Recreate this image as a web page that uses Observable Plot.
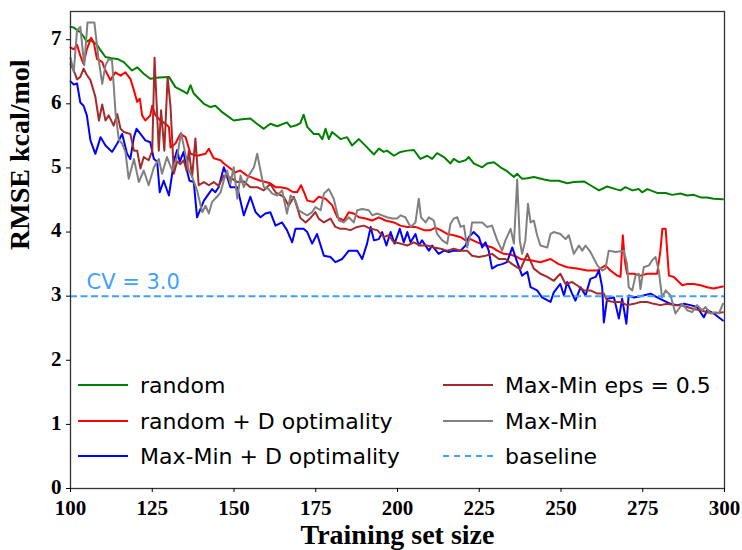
<!DOCTYPE html>
<html><head><meta charset="utf-8">
<script src="https://cdn.jsdelivr.net/npm/d3@7"></script>
<script src="https://cdn.jsdelivr.net/npm/@observablehq/plot@0.6"></script>
<style>
body{margin:0;background:#fff}
#wrap{position:relative;width:742px;height:550px;overflow:hidden}
.item{position:absolute;display:flex;align-items:center;white-space:nowrap;height:30px;font-family:"DejaVu Sans";font-size:22px;color:#000;transform:translateY(-50%)}
.sw{width:50px;height:0;margin-right:12px}
</style></head><body><div id="wrap"></div>
<script>
const seriesNames = ["random","random + D optimality","Max-Min + D optimality","Max-Min eps = 0.5","Max-Min"];
const seriesColors = ["#008000","#ff0000","#0000ff","#a52a2a","#808080"];
const baselineName = "baseline";
const baselineColor = "#3fa0ff";
const baselineValue = [3.0];
const cvLabel = ["CV = 3.0"];
const cvLabelX = [104.9];
const xTicks = [100,125,150,175,200,225,250,275,300];
const yTicks = [0,1,2,3,4,5,6,7];

const randX = [100,101,102,103,104,105,106,107,108,109,110.7,112.5,114.3,116.3,118.8,120.4,122.4,124.4,127,130.1,132.1,134,135.7,136.7,137.7,140.8,142.8,144.3,146.4,149.9,152.5,155,157,159.1,161.1,163.2,166.2,167.3,169.3,170.3,171.3,172.4,174.4,175.9,177,178,179,180,182.6,184.6,186.1,188.2,190.7,192.8,194.3,195.8,196.8,198.9,200.9,203,205,207,209.1,210.6,212.1,214.2,216.2,217.2,218.8,220.8,221.8,223.3,225.9,227.4,229.5,231.5,233.5,235.6,236.6,238.1,239.7,241.7,244.8,246.8,249.3,251.9,253.9,257,259,261.6,264.1,266.7,268.2,269.7,271.8,273.8,274.8,276.4,279.4,282,284,286.5,288.6,290.6,292.7,294.7,296.7,299.5];
const randY = [7.20,7.19,7.15,7.12,7.05,6.97,7.00,6.96,6.93,6.85,6.73,6.71,6.70,6.65,6.52,6.57,6.47,6.39,6.41,6.42,6.26,6.21,6.16,6.29,6.16,6.00,5.95,5.97,5.87,5.74,5.76,5.77,5.69,5.61,5.69,5.65,5.71,5.64,5.67,5.70,5.83,5.64,5.53,5.53,5.45,5.61,5.45,5.56,5.45,5.48,5.35,5.45,5.32,5.21,5.30,5.25,5.27,5.19,5.25,5.27,5.28,5.14,5.19,5.14,5.23,5.17,5.07,5.14,5.09,5.12,5.17,5.07,5.01,5.07,5.09,5.01,4.95,4.86,4.91,4.83,4.84,4.86,4.82,4.80,4.80,4.76,4.78,4.79,4.73,4.65,4.71,4.67,4.65,4.70,4.65,4.67,4.62,4.67,4.61,4.61,4.58,4.60,4.57,4.58,4.54,4.54,4.52,4.51];

const randDX = [100,101,102,103,104,105,106.3,107.1,108.1,109.7,110.7,112.2,113.7,115.3,116.8,118.3,119.4,120.4,121.2,121.9,122.9,124.4,125,126,127.5,129,130.1,130.6,132.1,133.6,135.2,136.7,138.7,141.3,142.3,143.8,145.9,146.9,148.9,150.4,151.9,154,156,158.1,159.6,161.1,162.7,164.2,166.2,167.8,169.3,170.5,171.6,172.4,174.4,175.9,178,180,181.6,183.6,185.1,186.6,188.2,190.2,192.3,194.3,196.3,198.9,200.9,203,205.5,208.1,210.1,211.6,213.2,215.2,217.2,219.3,220.8,222.3,224.4,226.9,229,230.5,232.5,234.6,236.6,237.6,240.7,243.7,246.8,249.3,251.9,254.9,258,261.1,263.6,265.1,267.2,268.2,268.9,269.5,270.2,272.3,274.3,276.4,279.4,280.4,281,282,283,284.5,287.1,288.6,290.6,292.7,294.7,296.7,299.5];
const randDY = [6.88,6.85,6.92,6.75,6.62,6.85,7.03,6.96,6.70,6.65,6.52,6.37,6.49,6.44,6.49,6.39,6.21,6.03,6.08,5.82,5.74,5.82,5.97,5.82,5.74,5.69,5.64,5.32,5.38,5.53,5.48,5.22,5.19,5.22,5.30,5.15,5.12,5.07,4.99,4.93,4.96,4.88,4.84,4.80,4.78,4.76,4.70,4.70,4.68,4.63,4.62,4.73,4.60,4.49,4.47,4.55,4.52,4.42,4.23,4.18,4.31,4.29,4.23,4.21,4.18,4.23,4.18,4.15,4.10,4.08,4.08,4.03,4.03,4.07,4.03,3.97,3.95,3.92,3.87,3.89,3.84,3.79,3.76,3.71,3.66,3.65,3.61,3.58,3.56,3.53,3.58,3.50,3.45,3.43,3.40,3.40,3.48,3.40,3.32,3.30,3.95,3.56,3.35,3.35,3.32,3.35,3.35,3.71,4.05,4.05,3.32,3.30,3.17,3.19,3.19,3.17,3.14,3.12,3.15];

const mmDX = [100,101,102,103,104,105,106.1,107.6,109.2,110.7,112.7,114.3,115.8,117.3,118.3,119.4,120.2,121.4,122.9,124.4,125.5,126.5,127.3,128.5,130.1,131.1,131.8,132.6,133.4,134.6,135.4,136.4,137.7,138.7,140.8,142.3,143.3,144.3,145.3,146.9,147.9,148.9,151,153,155,156.6,158.1,159.6,161.1,162.7,164.7,166.2,167.8,168.8,171.3,172.4,173.9,175.4,177.5,179.5,181,183.1,185.1,187.7,189.2,190.7,191.8,192.8,194.3,195.3,196.6,197.9,199.1,200.7,201.9,203,204,205.5,206.5,207.5,209.6,210.6,212.6,214.2,215.7,217.2,219.3,220.8,221.8,223.3,224.9,225.9,226.9,227.9,228.9,230.5,232,233.5,235.1,236.6,238.1,239.7,240.7,242.7,244.2,246.8,247.8,249.8,250.9,251.9,253.4,254.4,256,257.5,259,260.6,261.6,262.6,263.1,264.1,266.2,267.7,268.7,270,270.7,272.3,274.3,277.4,279.4,281.4,283.5,285.5,287.6,289.6,291.6,293.7,294.7,296.7,299.5];
const mmDY = [6.35,6.30,6.32,6.02,5.97,5.82,5.43,5.22,5.48,5.35,5.25,5.38,5.53,5.22,5.14,5.48,5.61,5.53,5.43,5.40,5.14,5.10,4.62,4.80,4.57,4.91,5.14,5.28,5.10,5.25,5.00,4.80,4.78,4.23,4.49,4.60,4.67,4.62,4.70,5.01,4.86,4.70,4.70,4.26,4.55,4.31,4.23,4.29,4.31,4.10,4.15,4.03,3.84,4.05,4.05,4.00,3.82,3.97,3.63,3.61,3.53,3.58,3.71,3.71,3.58,3.82,4.08,3.87,3.89,4.00,3.79,4.00,3.82,4.05,3.84,4.00,3.84,3.97,3.79,3.87,3.71,3.79,3.66,3.71,3.69,3.71,3.71,3.79,3.92,4.00,3.92,3.76,3.84,3.71,3.43,3.48,3.50,3.53,3.76,3.53,3.32,3.38,3.14,3.09,2.98,2.91,3.06,3.19,3.01,3.22,3.04,2.93,3.14,3.01,3.27,3.30,3.40,3.14,2.59,2.96,2.98,2.65,2.96,2.57,3.01,2.98,3.00,3.04,2.98,2.93,2.88,2.86,2.88,2.86,2.83,2.67,2.78,2.73,2.62];

const mmEpsX = [100,101,102,103,104,105,106.1,107.6,108.7,109.7,110.7,111.7,113.2,114.3,115.3,116.3,118.3,119.4,120.4,121.4,122.4,123.9,125,125.7,126.3,127,127.7,128.7,129.7,130.6,131.6,132.6,133.6,134.6,135.5,136.2,137.2,138.2,139.2,140.8,142.3,143.8,145.3,146.9,148.9,151,153,155,157.1,159.1,161.1,162.7,165.2,166.7,168.3,170.3,171.9,173.4,174.9,175.9,177.5,179.5,181,182.6,184.1,185.6,187.7,189.7,191.8,193.8,195.8,197.3,198.9,200.9,203,205,207,209.1,211.1,213.2,215.2,217.2,219.3,221.3,222.8,224.9,226.9,228.9,231,233,235.1,236.6,237.6,239.7,241.7,243.7,245.8,247.8,249.8,251.4,253.4,254.9,257,259,261.1,263.1,264.1,266.2,268.2,270.2,272.3,274.3,276.4,278.4,280.4,282.5,284.5,286.5,288.6,290.6,292.7,294.7,296.7,299.5];
const mmEpsY = [6.62,6.52,6.38,6.42,6.55,6.45,6.37,6.11,5.74,5.99,5.74,5.82,5.66,5.84,5.61,5.56,5.53,5.27,5.27,4.99,5.17,5.12,5.27,6.72,6.05,5.27,5.90,5.27,6.42,5.95,4.91,5.10,5.06,5.12,4.96,5.27,4.86,5.46,4.73,4.78,4.73,4.78,4.72,4.88,4.85,4.78,4.79,4.70,4.70,4.65,4.75,4.62,4.55,4.41,4.55,4.22,4.15,4.22,4.31,4.21,4.15,4.21,4.08,4.05,4.05,4.03,4.08,4.10,4.05,4.03,3.92,3.95,3.84,3.82,3.79,3.84,3.79,3.79,3.76,3.74,3.71,3.74,3.71,3.71,3.63,3.61,3.63,3.66,3.58,3.58,3.50,3.45,3.42,3.66,3.43,3.35,3.30,3.24,3.35,3.19,3.22,3.17,3.09,3.09,3.04,3.04,2.93,2.91,2.91,2.86,2.88,2.91,2.91,2.88,2.86,2.88,2.86,2.86,2.83,2.80,2.78,2.75,2.73,2.75];

const mmX = [100,101,102,103,104.2,105.2,107.3,108.5,109.7,110.7,111.7,112.7,113.8,114.8,115.8,116.8,117.8,119.4,120.9,122.4,123.9,125.5,127,128,129.5,131.1,132.6,133.8,135.2,136.2,137.2,138.7,140.3,141.3,142.3,143.3,144.8,145.9,146.9,147.9,148.9,149.9,151,152,153,154.5,156.1,157.1,158.1,159.1,160.6,161.7,163.2,164.7,166.2,167.3,168.8,169.8,171.3,172.4,173.9,174.9,176.5,177.5,179,180.5,182.1,183.6,185.1,186.6,187.7,189.2,191.2,192.3,193.8,195.3,196.8,198.4,199.9,200.9,202.4,204,205.5,206.5,207.2,208.6,209.6,211.1,212.1,213.7,215.2,216.2,217.2,218.3,219.3,220.3,221.3,222.3,222.8,224.4,225.9,227.4,228.9,230.5,232,233,234.6,235.6,236.6,237.4,238.1,239.1,239.9,240.7,241.7,242.7,243.7,245.8,246.8,247.8,249.8,251.4,252.4,253.9,255.5,256.5,257.5,259,261.1,262.6,263.6,264.6,266.7,269.2,270.2,270.7,271.8,272.8,273.8,274.3,275.3,276.9,277.9,278.9,279.9,280.9,282,283.5,285,286,287.1,288.6,290.1,291.6,293.2,294.2,295.7,297.2,298.3,299.5];
const mmY = [6.72,6.50,7.15,7.20,6.60,7.27,7.27,6.73,6.31,6.60,6.70,6.68,5.84,5.43,5.38,5.25,4.83,5.14,4.78,4.96,4.73,5.01,5.14,4.91,5.17,4.96,5.17,5.55,5.20,4.96,4.86,4.65,4.31,4.41,4.29,4.47,4.55,4.62,4.81,4.96,4.75,5.01,4.52,4.88,4.70,4.88,5.01,5.22,4.96,4.70,4.67,4.60,4.57,4.65,4.29,4.57,4.49,4.34,4.29,4.26,4.31,4.39,4.34,4.60,4.67,4.52,4.18,4.15,4.23,4.15,4.34,4.36,4.34,4.26,4.29,4.26,4.23,4.21,4.21,4.26,4.23,4.08,4.15,4.52,4.23,4.15,4.23,4.18,3.97,3.87,3.82,4.13,4.21,4.23,4.08,4.10,3.76,3.97,4.15,4.15,4.15,4.08,4.10,3.87,3.71,3.87,4.05,3.82,4.82,3.87,3.66,3.87,4.44,4.15,4.18,3.95,3.79,3.76,3.97,4.00,3.97,3.89,3.95,3.66,3.79,3.71,3.79,3.69,3.48,3.40,3.43,3.71,3.69,3.71,3.50,3.14,3.09,3.32,3.35,3.11,3.45,3.48,3.56,3.61,3.40,2.98,3.09,3.01,2.73,2.80,2.88,2.78,2.75,2.86,2.78,2.83,2.73,2.75,2.73,2.88];

const xs = [randX, randDX, mmDX, mmEpsX, mmX];
const ys = [randY, randDY, mmDY, mmEpsY, mmY];
const table = seriesNames.flatMap((name, i) => xs[i].map((x, j) => ({series: name, x, y: ys[i][j]})));

const chart = Plot.plot({
  width: 742, height: 550,
  marginLeft: 70, marginRight: 18, marginTop: 11, marginBottom: 62,
  style: {fontFamily: "'Liberation Serif', 'Times New Roman', serif", background: "#fff", color: "#000"},
  x: {domain: [100, 300]},
  y: {domain: [0, 7.44]},
  color: {domain: seriesNames, range: seriesColors},
  marks: [
    Plot.line(table, {x: "x", y: "y", z: "series", stroke: "series", strokeWidth: 2, strokeLinejoin: "round"}),
    Plot.ruleY(baselineValue, {stroke: baselineColor, strokeWidth: 2, strokeDasharray: "7,3.5"}),
    Plot.text(cvLabel, {x: cvLabelX, y: baselineValue, text: d => d, textAnchor: "start", dy: -14, fill: baselineColor, fontSize: 21, fontFamily: "DejaVu Sans"}),
    Plot.frame({stroke: "#333", strokeWidth: 1.3}),
    Plot.axisX({ticks: xTicks, tickSize: 4, tickPadding: 8, fontSize: 21, fontWeight: "bold", label: null}),
    Plot.axisY({ticks: yTicks, tickSize: 4, tickFormat: () => "", label: null}),
    Plot.text(yTicks, {frameAnchor: "left", y: d => d, text: d => String(d), dx: -9, dy: -1.5, textAnchor: "end", fontSize: 21, fontWeight: "bold"}),
    Plot.text(["Training set size"], {frameAnchor: "bottom", dy: 55, fontSize: 28, fontWeight: "bold", text: d => d}),
    Plot.text(["RMSE kcal/mol"], {frameAnchor: "left", dx: -50, rotate: -90, fontSize: 28, fontWeight: "bold", text: d => d})
  ]
});

const wrap = document.getElementById("wrap");
wrap.appendChild(chart);

const legendEntries = seriesNames.map((n, i) => ({name: n, color: seriesColors[i], dash: false}))
  .concat([{name: baselineName, color: baselineColor, dash: true}]);
const colLeft = [78, 443];
const rowMid = [385, 421, 456];
legendEntries.forEach((e, i) => {
  const col = Math.floor(i / 3), row = i % 3;
  const div = document.createElement("div");
  div.className = "item";
  div.style.left = colLeft[col] + "px";
  div.style.top = rowMid[row] + "px";
  const sw = document.createElement("span");
  sw.className = "sw";
  sw.style.borderTop = `2px ${e.dash ? "dashed" : "solid"} ${e.color}`;
  div.appendChild(sw);
  div.appendChild(document.createTextNode(e.name));
  wrap.appendChild(div);
});
</script>
</body></html>
